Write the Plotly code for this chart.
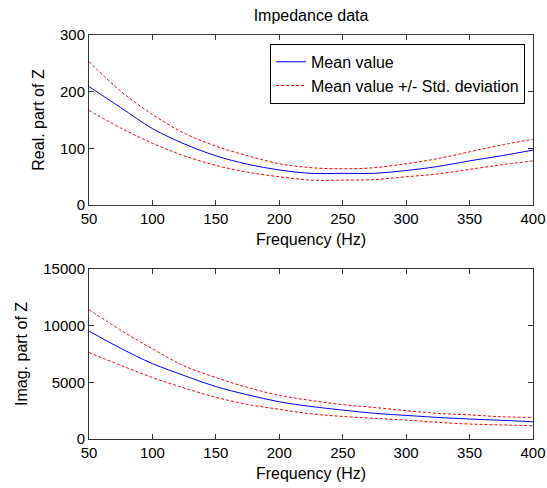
import plotly.graph_objects as go
from plotly.subplots import make_subplots

freq = [50, 75, 100, 125, 150, 175, 200, 225, 250, 275, 300, 325, 350, 375, 400]
real_mean = [209, 172, 135, 108, 87, 72, 62, 56, 56, 56, 61, 68, 78, 87, 97]
real_upper = [253, 201, 160, 127, 104, 87, 73, 66, 64, 66, 73, 82, 94, 106, 116]
real_lower = [167, 136, 109, 87, 70, 58, 50, 44, 44, 45, 50, 55, 63, 71, 78]
imag_mean = [9520, 8000, 6650, 5600, 4620, 3900, 3280, 2870, 2550, 2270, 2080, 1900, 1760, 1650, 1520]
imag_upper = [11400, 9600, 7950, 6450, 5420, 4550, 3850, 3400, 3030, 2780, 2500, 2260, 2130, 1960, 1900]
imag_lower = [7620, 6500, 5420, 4500, 3680, 3050, 2620, 2220, 1990, 1820, 1670, 1470, 1320, 1240, 1170]

x_ticks = [50, 100, 150, 200, 250, 300, 350, 400]
real_ticks = [0, 100, 200, 300]
imag_ticks = [0, 5000, 10000, 15000]

FONT = "Liberation Sans, Arial, sans-serif"
BLUE = "#0000ff"
RED = "#ff0000"

W, H = 547, 488
L, R, T, B = 89, 14, 35, 49

fig = make_subplots(rows=2, cols=1, vertical_spacing=0.158)

def add(row, y, name, color, dash, show):
    fig.add_trace(go.Scatter(x=freq, y=y, mode="lines", name=name,
                             line=dict(color=color, width=1, dash=dash, shape="spline", smoothing=1.0),
                             showlegend=show, legendgroup=name), row=row, col=1)

add(1, real_mean, "Mean value", BLUE, "solid", True)
add(1, real_upper, "Mean value +/- Std. deviation", RED, "3px,2px", True)
add(1, real_lower, "Mean value +/- Std. deviation", RED, "3px,2px", False)
add(2, imag_mean, "Mean value", BLUE, "solid", False)
add(2, imag_upper, "Mean value +/- Std. deviation", RED, "3px,2px", False)
add(2, imag_lower, "Mean value +/- Std. deviation", RED, "3px,2px", False)

axcommon = dict(showline=True, linecolor="#333333", linewidth=1, mirror="ticks",
                ticks="inside", ticklen=5, tickcolor="#333333", showgrid=False,
                zeroline=False, automargin=False, ticklabeloverflow="allow",
                tickfont=dict(family=FONT, size=15, color="black"))

for r in (1, 2):
    fig.update_xaxes(range=[50, 400], tickvals=x_ticks, ticktext=[str(v) for v in x_ticks],
                     title=dict(text="Frequency (Hz)", font=dict(family=FONT, size=16, color="black"), standoff=7),
                     row=r, col=1, **axcommon)

fig.update_yaxes(range=[0, 300], tickvals=real_ticks, ticktext=[str(v) for v in real_ticks],
                 title=dict(text="Real. part of Z", font=dict(family=FONT, size=16, color="black"), standoff=11),
                 row=1, col=1, **axcommon)
fig.update_yaxes(range=[0, 15000], tickvals=imag_ticks, ticktext=[str(v) for v in imag_ticks],
                 title=dict(text="Imag. part of Z", font=dict(family=FONT, size=16, color="black"), standoff=11),
                 row=2, col=1, **axcommon)

fig.update_layout(
    width=W, height=H,
    margin=dict(l=L, r=R, t=T, b=B, autoexpand=False),
    paper_bgcolor="white", plot_bgcolor="white",
    title=dict(text="Impedance data", x=(L + (W - R)) / 2 / W, xanchor="center",
               y=1 - 15 / H, yanchor="middle",
               font=dict(family=FONT, size=16, color="black")),
    legend=dict(x=0.982, y=0.978, xanchor="right", yanchor="top",
                bgcolor="white", bordercolor="black", borderwidth=1,
                font=dict(family=FONT, size=16, color="black"),
                tracegroupgap=0, itemwidth=30),
    showlegend=True,
)

fig.write_html("out.html", config={"displayModeBar": False},
               post_script="document.body.style.margin='0';document.body.style.overflow='hidden';")
